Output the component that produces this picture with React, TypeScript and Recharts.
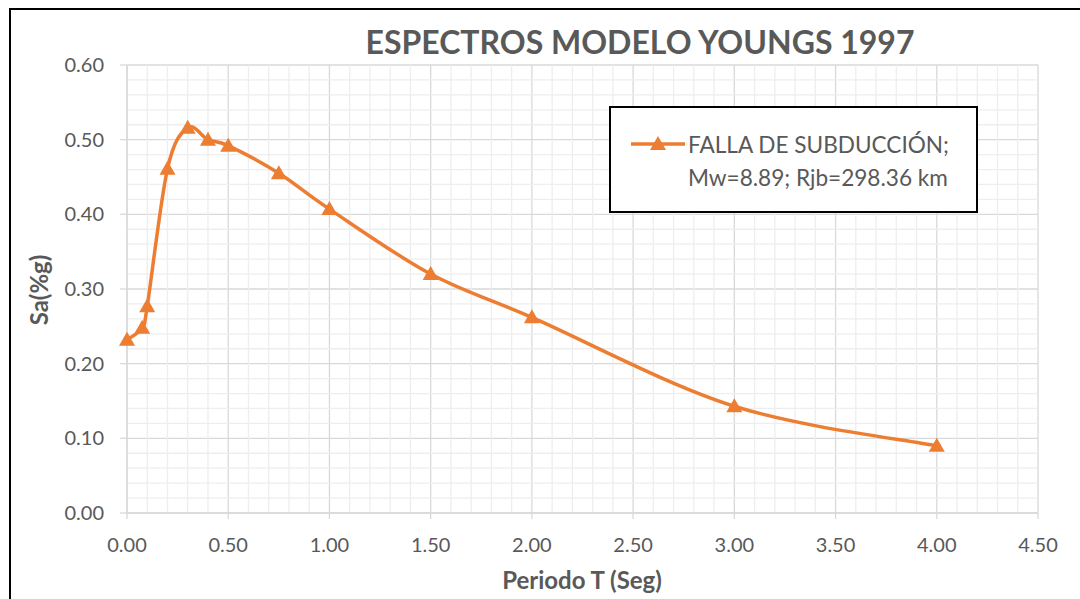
import { LineChart, Line, XAxis, YAxis, CartesianGrid, Legend, Label, ReferenceLine } from "recharts";

// periodo T (s) y Sa (%g)
const PERIODS = [0, 0.075, 0.1, 0.2, 0.3, 0.4, 0.5, 0.75, 1.0, 1.5, 2.0, 3.0, 4.0];
const SA_VALUES = [0.232, 0.248, 0.277, 0.461, 0.516, 0.5, 0.492, 0.455, 0.407, 0.32, 0.262, 0.143, 0.09];

const X_TICKS = [0, 0.5, 1, 1.5, 2, 2.5, 3, 3.5, 4, 4.5];
const Y_TICKS = [0, 0.1, 0.2, 0.3, 0.4, 0.5, 0.6];
// líneas secundarias (sin las principales)
const X_MINOR = [
  0.1, 0.2, 0.3, 0.4, 0.6, 0.7, 0.8, 0.9, 1.1, 1.2, 1.3, 1.4, 1.6, 1.7, 1.8, 1.9,
  2.1, 2.2, 2.3, 2.4, 2.6, 2.7, 2.8, 2.9, 3.1, 3.2, 3.3, 3.4, 3.6, 3.7, 3.8, 3.9,
  4.1, 4.2, 4.3, 4.4,
];
const Y_MINOR = [
  0.02, 0.04, 0.06, 0.08, 0.12, 0.14, 0.16, 0.18, 0.22, 0.24, 0.26, 0.28,
  0.32, 0.34, 0.36, 0.38, 0.42, 0.44, 0.46, 0.48, 0.52, 0.54, 0.56, 0.58,
];

const data = PERIODS.map((t, i) => ({ t, sa: SA_VALUES[i] }));

const ORANGE = "#ED7D31";
const TEXT = "#595959";
const FONT = "Lato, 'Open Sans', sans-serif";

// suavizado tipo Excel (Catmull-Rom -> Bezier)
const curveExcel = (context: any) => {
  let xs: number[] = [];
  let ys: number[] = [];
  return {
    areaStart() {},
    areaEnd() {},
    lineStart() {
      xs = [];
      ys = [];
    },
    point(x: number, y: number) {
      xs.push(+x);
      ys.push(+y);
    },
    lineEnd() {
      const n = xs.length;
      if (!n) return;
      context.moveTo(xs[0], ys[0]);
      for (let i = 0; i < n - 1; i++) {
        const a = Math.max(i - 1, 0);
        const d = Math.min(i + 2, n - 1);
        const c1x = xs[i] + (xs[i + 1] - xs[a]) / 6;
        const c1y = ys[i] + (ys[i + 1] - ys[a]) / 6;
        const c2x = xs[i + 1] - (xs[d] - xs[i]) / 6;
        const c2y = ys[i + 1] - (ys[d] - ys[i]) / 6;
        context.bezierCurveTo(c1x, c1y, c2x, c2y, xs[i + 1], ys[i + 1]);
      }
    },
  };
};

const Triangle = (props: any) => {
  const { cx, cy, index } = props;
  if (cx == null || cy == null) return null;
  return (
    <polygon
      key={`tri-${index}`}
      points={`${cx},${cy - 8} ${cx - 8},${cy + 6} ${cx + 8},${cy + 6}`}
      fill={ORANGE}
    />
  );
};

const LegendBox = () => (
  <div
    style={{
      width: 369,
      height: 107,
      border: "2px solid #000",
      boxSizing: "border-box",
      background: "#fff",
      position: "relative",
      fontFamily: FONT,
      fontSize: 22.6,
      color: TEXT,
    }}
  >
    <svg width={60} height={20} style={{ position: "absolute", left: 18, top: 26 }}>
      <line x1={2} y1={10} x2={56} y2={10} stroke={ORANGE} strokeWidth={3.5} />
      <polygon points="29,2 21,16 37,16" fill={ORANGE} />
    </svg>
    <div style={{ position: "absolute", left: 77, top: 20, lineHeight: "33px", whiteSpace: "nowrap" }}>
      FALLA DE SUBDUCCIÓN;
      <br />
      Mw=8.89; Rjb=298.36 km
    </div>
  </div>
);

export default function App() {
  return (
    <div style={{ position: "absolute", left: 0, top: 0, width: 1080, height: 599, overflow: "hidden", background: "#fff" }}>
      <LineChart width={1080} height={599} data={data} margin={{ top: 65, right: 42, bottom: 0, left: 0 }}>
        {X_MINOR.map((v) => (
          <ReferenceLine key={`vx-${v}`} x={v} stroke="#eeeeee" strokeWidth={1.3} />
        ))}
        {Y_MINOR.map((v) => (
          <ReferenceLine key={`hy-${v}`} y={v} stroke="#eeeeee" strokeWidth={1.3} />
        ))}
        <CartesianGrid stroke="#d9d9d9" strokeWidth={1.3} />
        <XAxis
          dataKey="t"
          type="number"
          domain={[0, 4.5]}
          ticks={X_TICKS}
          interval={0}
          tickFormatter={(v: number) => v.toFixed(2)}
          stroke="#d9d9d9"
          strokeWidth={1.3}
          tickSize={6}
          tickMargin={19}
          height={86}
          tick={{ fill: TEXT, fontSize: 20, fontFamily: FONT }}
        >
          <Label
            content={() => (
              <text x={582} y={589} textAnchor="middle" fill={TEXT} fontFamily={FONT} fontWeight="bold" fontSize={24}>
                Periodo T (Seg)
              </text>
            )}
          />
        </XAxis>
        <YAxis
          type="number"
          domain={[0, 0.6]}
          ticks={Y_TICKS}
          interval={0}
          tickFormatter={(v: number) => v.toFixed(2)}
          stroke="#d9d9d9"
          strokeWidth={1.3}
          tickSize={7}
          tickMargin={16}
          width={127}
          tick={{ fill: TEXT, fontSize: 20, fontFamily: FONT }}
        >
          <Label
            content={() => (
              <text
                x={48}
                y={290}
                transform="rotate(-90 48 290)"
                textAnchor="middle"
                fill={TEXT}
                fontFamily={FONT}
                fontWeight="bold"
                fontSize={24}
              >
                Sa(%g)
              </text>
            )}
          />
        </YAxis>
        <Legend
          layout="horizontal"
          verticalAlign="middle"
          align="center"
          content={() => <LegendBox />}
          wrapperStyle={{ position: "absolute", left: 609, top: 106, width: 369, height: 107 }}
        />
        <Line
          dataKey="sa"
          type={curveExcel as any}
          stroke={ORANGE}
          strokeWidth={3.5}
          dot={Triangle}
          activeDot={false}
          isAnimationActive={false}
          name="FALLA DE SUBDUCCIÓN; Mw=8.89; Rjb=298.36 km"
        />
      </LineChart>
      <svg width={1080} height={599} style={{ position: "absolute", left: 0, top: 0, pointerEvents: "none" }}>
        <text x={640} y={54} textAnchor="middle" fill={TEXT} fontFamily={FONT} fontWeight="bold" fontSize={32}>
          ESPECTROS MODELO YOUNGS 1997
        </text>
        <rect x={10} y={9} width={1200} height={800} fill="none" stroke="#000" strokeWidth={2} />
      </svg>
    </div>
  );
}
